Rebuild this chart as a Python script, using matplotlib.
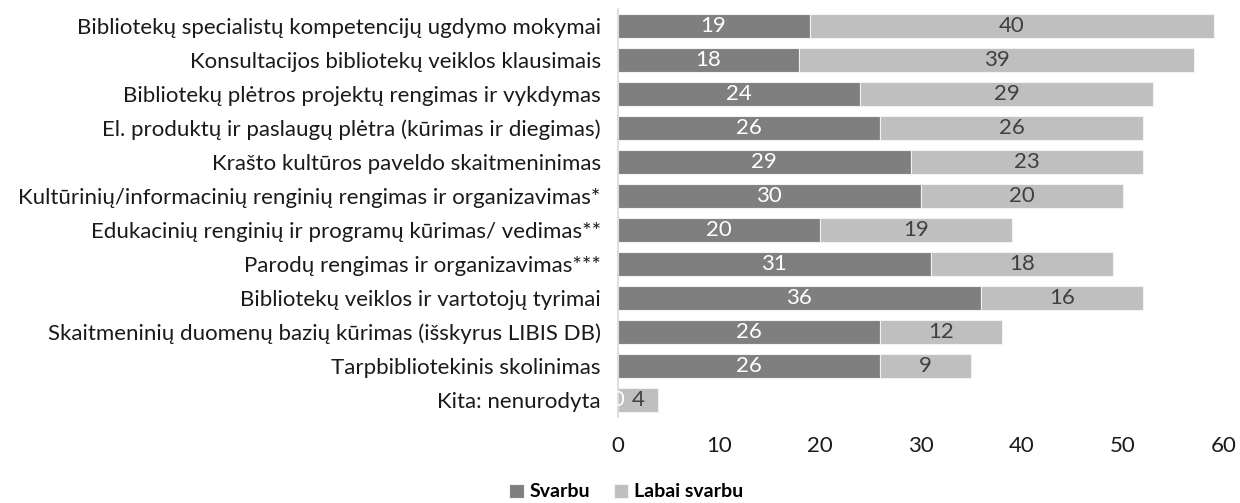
import matplotlib
matplotlib.use("Agg")
import matplotlib.pyplot as plt
import numpy as np

categories = [
    "Bibliotekų specialistų kompetencijų ugdymo mokymai",
    "Konsultacijos bibliotekų veiklos klausimais",
    "Bibliotekų plėtros projektų rengimas ir vykdymas",
    "El. produktų ir paslaugų plėtra (kūrimas ir diegimas)",
    "Krašto kultūros paveldo skaitmeninimas",
    "Kultūrinių/informacinių renginių rengimas ir organizavimas*",
    "Edukacinių renginių ir programų kūrimas/ vedimas**",
    "Parodų rengimas ir organizavimas***",
    "Bibliotekų veiklos ir vartotojų tyrimai",
    "Skaitmeninių duomenų bazių kūrimas (išskyrus LIBIS DB)",
    "Tarpbibliotekinis skolinimas",
    "Kita: nenurodyta",
]
svarbu = [19, 18, 24, 26, 29, 30, 20, 31, 36, 26, 26, 0]
labai_svarbu = [40, 39, 29, 26, 23, 20, 19, 18, 16, 12, 9, 4]
xticks = [0, 10, 20, 30, 40, 50, 60]

plt.rcParams['font.family'] = ['Lato', 'DejaVu Sans']
dark = '#7f7f7f'
light = '#bfbfbf'
fs = 16

fig = plt.figure(figsize=(12.4, 5.03), dpi=100)
ax = fig.add_axes([0.498, 0.171, 0.489, 0.811])
y = np.arange(len(categories))
h = 0.72
b1 = ax.barh(y, svarbu, height=h, color=dark, edgecolor='#f2f2f2', linewidth=0.8, label='Svarbu')
b2 = ax.barh(y, labai_svarbu, left=svarbu, height=h, color=light, edgecolor='#f2f2f2', linewidth=0.8, label='Labai svarbu')
for i in range(len(categories)):
    ax.text(svarbu[i] / 2, y[i], str(svarbu[i]), ha='center', va='center', color='white', fontsize=fs)
    ax.text(svarbu[i] + labai_svarbu[i] / 2, y[i], str(labai_svarbu[i]), ha='center', va='center', color='#404040', fontsize=fs)

ax.set_ylim(len(categories) - 0.5, -0.5)
ax.set_xlim(0, 60)
ax.set_yticks(y)
ax.set_yticklabels(categories, fontsize=fs, color='#1a1a1a')
ax.set_xticks(xticks)
ax.set_xticklabels([str(t) for t in xticks], fontsize=fs, color='#1a1a1a')
ax.tick_params(axis='y', length=0, pad=12)
ax.tick_params(axis='x', length=0, pad=14)
for s in ['top', 'right', 'bottom']:
    ax.spines[s].set_visible(False)
ax.spines['left'].set_color('#d9d9d9')
ax.spines['left'].set_linewidth(1.2)

leg = fig.legend(handles=[b1, b2], loc='center', bbox_to_anchor=(0.505, 0.022), ncol=2, frameon=False,
                 prop={'weight': 'bold', 'size': 14}, handlelength=0.75, handleheight=0.75,
                 handletextpad=0.3, columnspacing=1.2)
fig.savefig('out.png', dpi=100)
